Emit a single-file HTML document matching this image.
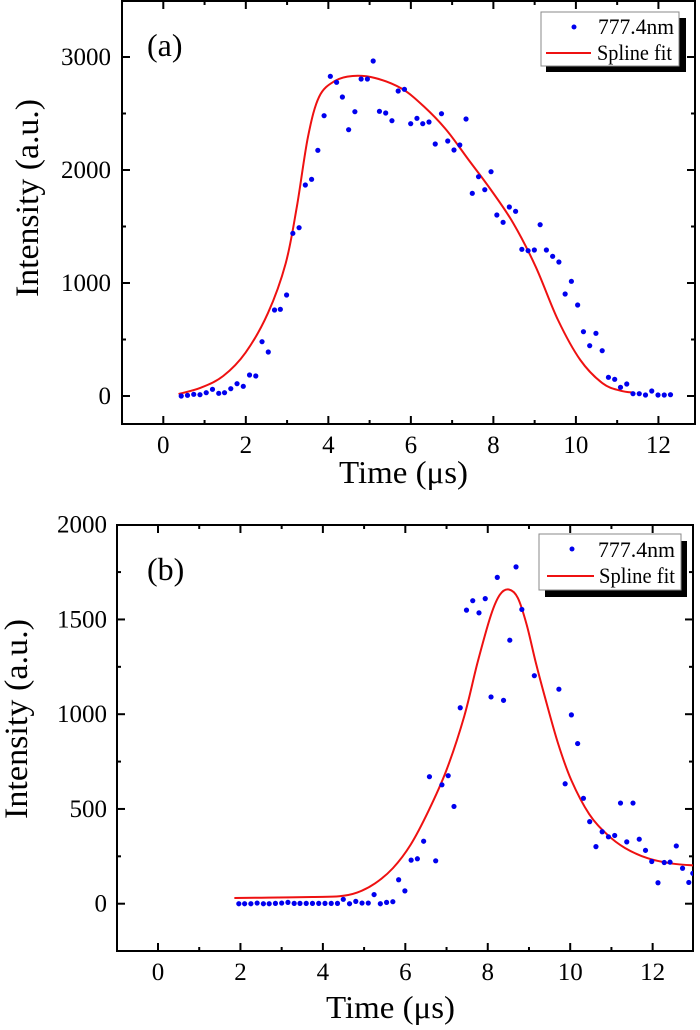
<!DOCTYPE html>
<html><head><meta charset="utf-8"><style>
html,body{margin:0;padding:0;background:#fff;}
svg{display:block;}
text{font-family:"Liberation Serif",serif;fill:#000;}
</style></head><body>
<svg id="s" width="700" height="1030" xmlns="http://www.w3.org/2000/svg">
<defs>
<clipPath id="ca"><rect x="122" y="1" width="573" height="423"/></clipPath>
<clipPath id="cb"><rect x="117" y="525" width="576" height="426"/></clipPath>
</defs>
<g id="ga"></g>
<g id="gb"></g>
<!-- legend a -->
<rect x="546" y="18" width="140" height="54" fill="#000"/>
<rect x="541" y="12" width="138" height="54" fill="#fff" stroke="#888" stroke-width="1"/>
<circle cx="574" cy="27" r="2.5" fill="#0000ee"/>
<text x="598" y="34" font-size="22" textLength="76" lengthAdjust="spacingAndGlyphs">777.4nm</text>
<line x1="546" y1="53" x2="591" y2="53" stroke="#ee1111" stroke-width="2"/>
<text x="597" y="60" font-size="22" textLength="75" lengthAdjust="spacingAndGlyphs">Spline fit</text>
<text x="147" y="56" font-size="32">(a)</text>
<text x="339" y="483" font-size="32" textLength="129" lengthAdjust="spacingAndGlyphs">Time (μs)</text>
<text transform="translate(38,198) rotate(-90)" text-anchor="middle" font-size="33" textLength="198" lengthAdjust="spacingAndGlyphs">Intensity (a.u.)</text>
<!-- legend b -->
<rect x="545" y="541" width="142" height="56" fill="#000"/>
<rect x="539" y="534" width="142" height="56" fill="#fff" stroke="#888" stroke-width="1"/>
<circle cx="572" cy="549" r="2.5" fill="#0000ee"/>
<text x="598" y="557" font-size="22" textLength="77" lengthAdjust="spacingAndGlyphs">777.4nm</text>
<line x1="547" y1="576" x2="594" y2="576" stroke="#ee1111" stroke-width="2"/>
<text x="599" y="583" font-size="22" textLength="76" lengthAdjust="spacingAndGlyphs">Spline fit</text>
<text x="147" y="580" font-size="32">(b)</text>
<text x="326" y="1018" font-size="32" textLength="129" lengthAdjust="spacingAndGlyphs">Time (μs)</text>
<text transform="translate(27,719) rotate(-90)" text-anchor="middle" font-size="33" textLength="200" lengthAdjust="spacingAndGlyphs">Intensity (a.u.)</text>
</svg>
<script>
var NS="http://www.w3.org/2000/svg";
function el(p,n,a){var e=document.createElementNS(NS,n);for(var k in a)e.setAttribute(k,a[k]);p.appendChild(e);return e;}
function cr(pts){var d="M"+pts[0][0]+","+pts[0][1];for(var i=0;i<pts.length-1;i++){var p0=pts[i-1]||pts[i],p1=pts[i],p2=pts[i+1],p3=pts[i+2]||p2;
d+=" C"+(p1[0]+(p2[0]-p0[0])/6)+","+(p1[1]+(p2[1]-p0[1])/6)+" "+(p2[0]-(p3[0]-p1[0])/6)+","+(p2[1]-(p3[1]-p1[1])/6)+" "+p2[0]+","+p2[1];}return d;}
function panel(g,o){
 var L=o.L,R=o.R,T=o.T,B=o.B;
 for(var v=-1;v<=13;v++){var x=o.x0+v*o.xu;if(x<L||x>R)continue;var len=(v%2==0)?8:4;
  el(g,"line",{x1:x,y1:B,x2:x,y2:B-len,stroke:"#000","stroke-width":2});
  el(g,"line",{x1:x,y1:T,x2:x,y2:T+len,stroke:"#000","stroke-width":2});
  if(v%2==0&&v>=0){var t=el(g,"text",{x:x,y:o.lb,"font-size":25,"text-anchor":"middle"});t.textContent=v;}}
 for(var k=-10;k<=20;k++){var val=k*o.ym;var y=o.y0-val*o.yu;if(y<T-2||y>B)continue;var maj=(k%2==0);var len=maj?8:4;
  if(y>T+1){el(g,"line",{x1:L,y1:y,x2:L+len,y2:y,stroke:"#000","stroke-width":2});
  el(g,"line",{x1:R,y1:y,x2:R-len,y2:y,stroke:"#000","stroke-width":2});}
  if(maj&&val>=0){var t=el(g,"text",{x:o.yl,y:y+8,"font-size":25,"text-anchor":"end"});t.textContent=val;}}
 el(g,"rect",{x:L,y:T,width:R-L,height:B-T,fill:"none",stroke:"#000","stroke-width":2});
 var c=el(g,"g",{"clip-path":o.clip});
 var cp=o.curve.map(function(p){return [p[0]*o.sx,p[1]*o.sy+o.oy];});
 el(c,"path",{d:cr(cp),fill:"none",stroke:"#ee1111","stroke-width":2});
 o.pts.forEach(function(p){el(c,"circle",{cx:p[0]*o.sx,cy:p[1]*o.sy+o.oy,r:2.6,fill:"#0000ee"});});
}
var pa=[[406,1188],[420,1186],[434,1183],[448,1184],[462,1178],[476,1168],[490,1180],[503,1178],[517,1166],[531,1151],[545,1159],[559,1125],[573,1128],[587,1025],[601,1056],[615,930],[628,928],[642,885],[656,700],[670,683],[684,555],[698,538],[712,451],[726,347],[740,229],[754,247],[767,291],[781,389],[795,335],[809,237],[823,237],[836,183],[850,334],[864,339],[878,362],[892,273],[906,268],[920,371],[934,355],[947,371],[961,366],[975,432],[989,341],[1003,423],[1017,450],[1030,435],[1044,357],[1058,580],[1072,530],[1086,569],[1100,515],[1113,645],[1127,667],[1141,621],[1155,634],[1169,748],[1183,752],[1197,750],[1210,674],[1224,750],[1238,769],[1252,786],[1266,882],[1280,844],[1294,915],[1307,995],[1321,1037],[1335,1000],[1349,1052],[1363,1132],[1377,1138],[1390,1162],[1404,1152],[1418,1181],[1432,1181],[1446,1185],[1460,1173],[1474,1185],[1488,1185],[1502,1184]];
var ca=[[400,1182],[450,1163],[500,1128],[550,1058],[600,940],[640,790],[665,620],[690,410],[715,290],[750,243],[790,228],[840,234],[900,266],[950,320],[1000,390],[1050,480],[1100,570],[1150,670],[1200,800],[1250,960],[1300,1080],[1350,1150],[1390,1172],[1420,1178]];
var pb=[[535,1195],[548,1195],[562,1195],[576,1193],[590,1195],[603,1195],[617,1194],[631,1193],[645,1191],[659,1194],[672,1194],[686,1194],[700,1194],[714,1194],[728,1194],[742,1194],[756,1194],[769,1182],[783,1195],[797,1188],[811,1193],[825,1193],[838,1168],[852,1195],[866,1191],[880,1189],[893,1124],[907,1157],[921,1066],[935,1062],[949,1010],[962,819],[976,1068],[990,843],[1004,816],[1017,907],[1031,615],[1045,326],[1059,298],[1073,334],[1087,292],[1100,583],[1114,229],[1128,593],[1142,415],[1156,198],[1169,324],[1197,520],[1252,560],[1266,840],[1280,636],[1294,721],[1307,883],[1321,952],[1335,1026],[1349,982],[1363,997],[1377,993],[1390,897],[1404,1012],[1418,897],[1432,1004],[1446,1037],[1460,1070],[1474,1133],[1488,1073],[1501,1072],[1515,1024],[1529,1090],[1543,1132],[1552,1105]];
var cb=[[525,1178],[600,1177],[700,1175],[760,1173],[800,1162],[840,1135],[880,1090],[920,1020],[960,920],[1000,800],[1040,640],[1070,480],[1100,340],[1120,280],[1140,265],[1160,290],[1180,370],[1200,480],[1220,580],[1250,720],[1280,830],[1320,930],[1360,990],[1400,1030],[1450,1060],[1500,1075],[1555,1082]];
panel(document.getElementById("ga"),{L:122,R:695,T:1,B:424,x0:163.3,xu:41.26,y0:396,yu:0.113,ym:500,lb:453,yl:111,clip:"url(#ca)",pts:pa,curve:ca,sx:0.4464,sy:1/3,oy:0});
panel(document.getElementById("gb"),{L:117,R:693,T:525,B:951,x0:158,xu:41.22,y0:903.7,yu:0.1895,ym:250,lb:980,yl:107,clip:"url(#cb)",pts:pb,curve:cb,sx:0.4464,sy:1/2.96,oy:500});
</script>
</body></html>
